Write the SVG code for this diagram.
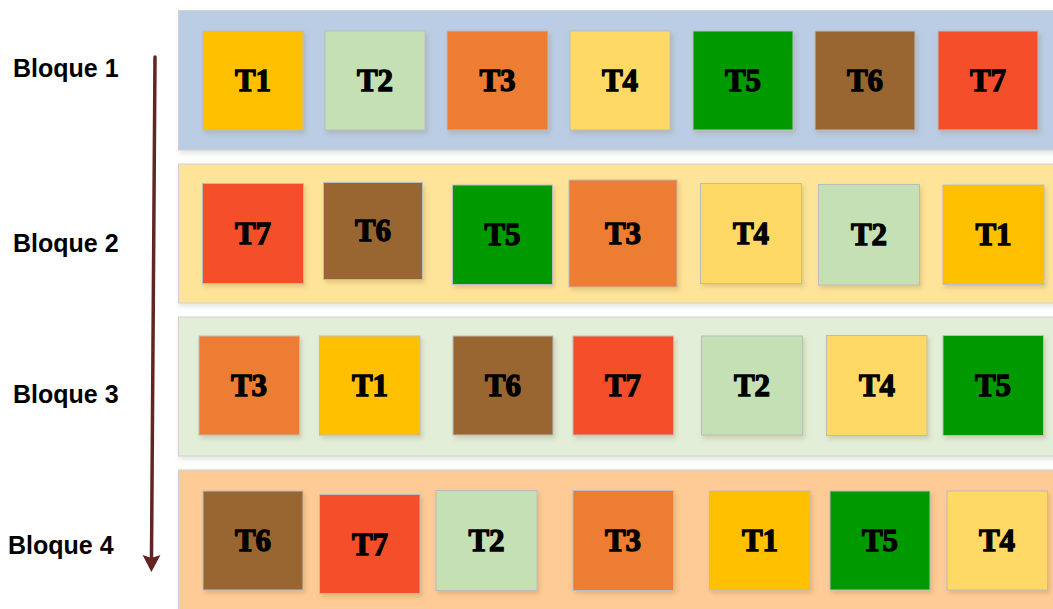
<svg xmlns="http://www.w3.org/2000/svg" width="1053" height="609" viewBox="0 0 1053 609">
<style>
.lbl{font-family:"Liberation Sans",Arial,sans-serif;font-weight:bold;font-size:25px;fill:#000}
.band{stroke:#d2d2d2;stroke-width:1}
.box{stroke:#bcbcbc;stroke-width:1}
.t{font-family:"Liberation Serif","Times New Roman",serif;font-weight:bold;font-size:31px;fill:#000;stroke:#000;stroke-width:1.3;text-anchor:middle}
.c1{fill:#FFC000}.c2{fill:#C5E0B4}.c3{fill:#ED7D31}.c4{fill:#FFD966}.c5{fill:#009900}.c6{fill:#996633}.c7{fill:#F4502C}
</style>
<defs>
<filter id="sh" x="-10%" y="-10%" width="130%" height="130%">
<feDropShadow dx="2" dy="3" stdDeviation="2" flood-color="#806020" flood-opacity="0.22"/>
</filter>
<filter id="shb" x="-5%" y="-10%" width="110%" height="130%">
<feDropShadow dx="1" dy="3" stdDeviation="2.5" flood-color="#708060" flood-opacity="0.2"/>
</filter>
<marker id="ah" markerUnits="userSpaceOnUse" markerWidth="20" markerHeight="20" viewBox="0 -10 20 20" refX="3" refY="0" orient="auto">
<path d="M0,-9 L17,0 L0,9 L3,0 z" fill="#632523"/>
</marker>
</defs>

<g id="labels">
<text class="lbl" x="13" y="77">Bloque 1</text>
<text class="lbl" x="13" y="252">Bloque 2</text>
<text class="lbl" x="13" y="403">Bloque 3</text>
<text class="lbl" x="8" y="554">Bloque 4</text>
</g>

<g id="connectors">
<path d="M155,57 L151.5,558" fill="none" stroke="#632523" stroke-width="3.5" stroke-linecap="round" marker-end="url(#ah)"/>
</g>

<g id="bloque1">
<rect class="band" x="178.5" y="10.5" width="880" height="139.5" fill="#BACDE5" filter="url(#shb)"/>
<g id="b1-T1"><rect class="box c1" x="203" y="31" width="100" height="99" filter="url(#sh)"/><text class="t" x="253" y="91">T1</text></g>
<g id="b1-T2"><rect class="box c2" x="325" y="31" width="100" height="99" filter="url(#sh)"/><text class="t" x="375" y="91">T2</text></g>
<g id="b1-T3"><rect class="box c3" x="447" y="31" width="101" height="99" filter="url(#sh)"/><text class="t" x="497.5" y="91">T3</text></g>
<g id="b1-T4"><rect class="box c4" x="570" y="31" width="100" height="99" filter="url(#sh)"/><text class="t" x="620" y="91">T4</text></g>
<g id="b1-T5"><rect class="box c5" x="693" y="31" width="100" height="99" filter="url(#sh)"/><text class="t" x="743" y="91">T5</text></g>
<g id="b1-T6"><rect class="box c6" x="815" y="31" width="100" height="99" filter="url(#sh)"/><text class="t" x="865" y="91">T6</text></g>
<g id="b1-T7"><rect class="box c7" x="938" y="31" width="100" height="99" filter="url(#sh)"/><text class="t" x="988" y="91">T7</text></g>
</g>

<g id="bloque2">
<rect class="band" x="178.5" y="164" width="880" height="139" fill="#FEE499" filter="url(#shb)"/>
<g id="b2-T7"><rect class="box c7" x="202.5" y="183.5" width="101" height="100" filter="url(#sh)"/><text class="t" x="253" y="244">T7</text></g>
<g id="b2-T6"><rect class="box c6" x="323.5" y="182.5" width="99" height="97" filter="url(#sh)"/><text class="t" x="373" y="241">T6</text></g>
<g id="b2-T5"><rect class="box c5" x="452.5" y="185" width="100" height="99.5" filter="url(#sh)"/><text class="t" x="502.5" y="245">T5</text></g>
<g id="b2-T3"><rect class="box c3" x="569" y="180" width="108" height="107" filter="url(#sh)"/><text class="t" x="623" y="244">T3</text></g>
<g id="b2-T4"><rect class="box c4" x="700.5" y="183.5" width="101" height="100" filter="url(#sh)"/><text class="t" x="751" y="244">T4</text></g>
<g id="b2-T2"><rect class="box c2" x="818.5" y="184.5" width="101" height="100.5" filter="url(#sh)"/><text class="t" x="869" y="245">T2</text></g>
<g id="b2-T1"><rect class="box c1" x="943" y="185" width="101" height="99.5" filter="url(#sh)"/><text class="t" x="993.5" y="245">T1</text></g>
</g>

<g id="bloque3">
<rect class="band" x="178.5" y="317" width="880" height="139" fill="#E2EED8" filter="url(#shb)"/>
<g id="b3-T3"><rect class="box c3" x="199" y="336" width="100.5" height="99" filter="url(#sh)"/><text class="t" x="249" y="396">T3</text></g>
<g id="b3-T1"><rect class="box c1" x="319.5" y="336" width="100.5" height="99" filter="url(#sh)"/><text class="t" x="370" y="396">T1</text></g>
<g id="b3-T6"><rect class="box c6" x="453" y="336" width="100" height="99" filter="url(#sh)"/><text class="t" x="503" y="396">T6</text></g>
<g id="b3-T7"><rect class="box c7" x="573" y="336" width="100.5" height="99" filter="url(#sh)"/><text class="t" x="623" y="396">T7</text></g>
<g id="b3-T2"><rect class="box c2" x="701.5" y="336" width="101" height="99" filter="url(#sh)"/><text class="t" x="752" y="396">T2</text></g>
<g id="b3-T4"><rect class="box c4" x="826.5" y="335.5" width="100.5" height="100" filter="url(#sh)"/><text class="t" x="877" y="396">T4</text></g>
<g id="b3-T5"><rect class="box c5" x="943" y="335.5" width="100.5" height="100" filter="url(#sh)"/><text class="t" x="993" y="396">T5</text></g>
</g>

<g id="bloque4">
<rect class="band" x="178.5" y="470" width="880" height="145" fill="#FECB96" filter="url(#shb)"/>
<g id="b4-T6"><rect class="box c6" x="203" y="491" width="100" height="99" filter="url(#sh)"/><text class="t" x="253" y="551">T6</text></g>
<g id="b4-T7"><rect class="box c7" x="319.5" y="494.5" width="100.5" height="99" filter="url(#sh)"/><text class="t" x="370" y="555">T7</text></g>
<g id="b4-T2"><rect class="box c2" x="436" y="490.5" width="101" height="100" filter="url(#sh)"/><text class="t" x="486.5" y="551">T2</text></g>
<g id="b4-T3"><rect class="box c3" x="573" y="490.5" width="100.5" height="100" filter="url(#sh)"/><text class="t" x="623" y="551">T3</text></g>
<g id="b4-T1"><rect class="box c1" x="709.5" y="491" width="100.5" height="99" filter="url(#sh)"/><text class="t" x="760" y="551">T1</text></g>
<g id="b4-T5"><rect class="box c5" x="830" y="491" width="100" height="99" filter="url(#sh)"/><text class="t" x="880" y="551">T5</text></g>
<g id="b4-T4"><rect class="box c4" x="947" y="491" width="100.5" height="99" filter="url(#sh)"/><text class="t" x="997" y="551">T4</text></g>
</g>
</svg>
